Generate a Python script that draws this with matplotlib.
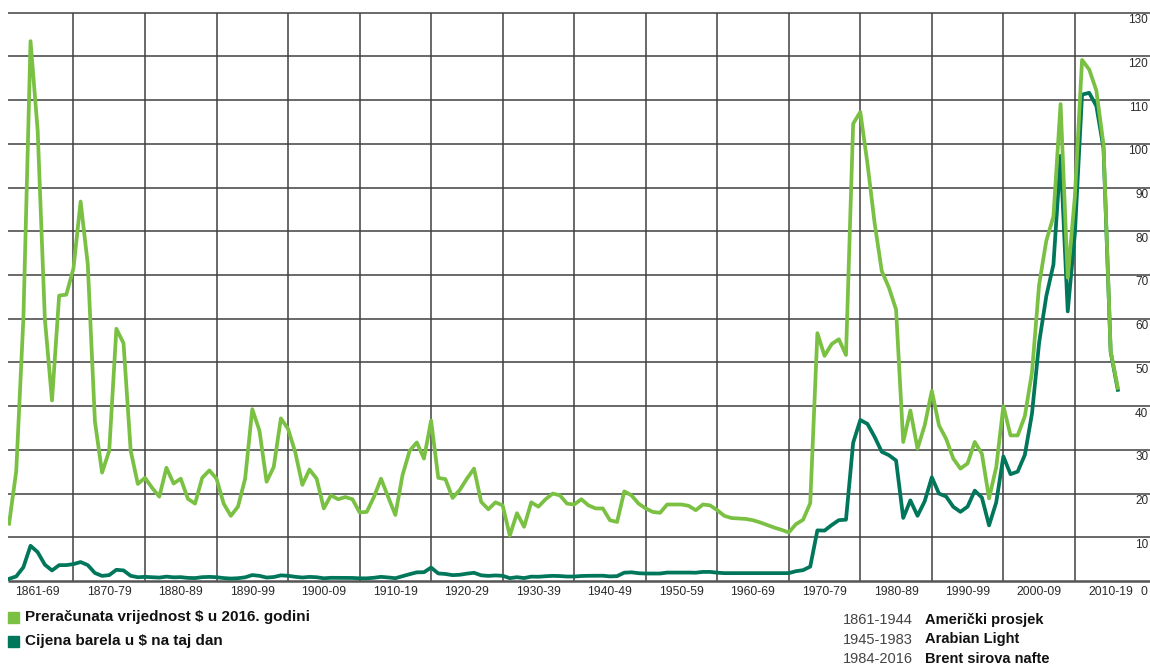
import matplotlib
matplotlib.use("Agg")
import matplotlib.pyplot as plt
from matplotlib.patches import Rectangle
from matplotlib.transforms import blended_transform_factory

plt.rcParams['font.family'] = ['Liberation Sans', 'DejaVu Sans']

years = list(range(1861, 2017))

# cijena u dolarima iz 2016.
real_2016 = [
    13.1, 25.1, 60.0, 123.5, 103.0, 60.0, 41.3, 65.3, 65.5, 71.5,
    86.8, 72.5, 36.5, 24.8, 29.8, 57.7, 54.4, 29.8, 22.2, 23.6,
    21.3, 19.3, 25.9, 22.3, 23.4, 18.8, 17.7, 23.6, 25.3, 23.4,
    17.7, 14.9, 17.0, 23.4, 39.3, 34.4, 22.7, 26.1, 37.2, 34.8,
    29.5, 22.0, 25.5, 23.4, 16.6, 19.6, 18.7, 19.2, 18.7, 15.7,
    15.8, 19.2, 23.4, 19.2, 15.1, 24.2, 29.8, 31.7, 28.0, 36.7,
    23.6, 23.3, 19.0, 20.8, 23.4, 25.7, 18.1, 16.4, 18.0, 17.3,
    10.4, 15.5, 12.4, 18.0, 17.0, 18.7, 20.0, 19.6, 17.7, 17.5,
    18.7, 17.3, 16.6, 16.6, 13.9, 13.5, 20.5, 19.6, 17.7, 16.6,
    15.8, 15.6, 17.5, 17.5, 17.5, 17.2, 16.2, 17.5, 17.3, 16.2,
    14.9, 14.4, 14.3, 14.2, 13.9, 13.4, 12.8, 12.2, 11.7, 11.1,
    13.0, 14.0, 17.8, 56.7, 51.5, 54.2, 55.3, 51.7, 104.6, 107.3,
    95.5, 81.9, 70.9, 67.1, 62.1, 31.8, 39.0, 30.3, 35.6, 43.5,
    35.6, 32.5, 28.0, 25.7, 26.9, 31.8, 29.1, 18.9, 26.0, 40.0,
    33.3, 33.3, 37.7, 47.7, 67.8, 77.8, 83.4, 109.1, 69.4, 88.0,
    119.2, 117.0, 112.2, 99.8, 52.6, 44.2,
]

# cijena na taj dan
nominal = [
    0.49, 1.05, 3.15, 8.06, 6.59, 3.74, 2.41, 3.63, 3.64, 3.86,
    4.34, 3.64, 1.83, 1.17, 1.35, 2.56, 2.42, 1.19, 0.86, 0.95,
    0.86, 0.78, 1.00, 0.84, 0.88, 0.71, 0.67, 0.88, 0.94, 0.87,
    0.67, 0.56, 0.64, 0.84, 1.36, 1.18, 0.79, 0.91, 1.29, 1.19,
    0.96, 0.80, 0.94, 0.86, 0.62, 0.73, 0.72, 0.72, 0.70, 0.61,
    0.61, 0.74, 0.95, 0.81, 0.64, 1.10, 1.56, 1.98, 2.01, 3.07,
    1.73, 1.61, 1.34, 1.43, 1.68, 1.88, 1.30, 1.17, 1.27, 1.19,
    0.65, 0.87, 0.67, 1.00, 0.97, 1.09, 1.18, 1.13, 1.02, 1.02,
    1.14, 1.19, 1.20, 1.21, 1.05, 1.12, 1.90, 1.99, 1.78, 1.71,
    1.71, 1.71, 1.93, 1.93, 1.93, 1.93, 1.90, 2.08, 2.08, 1.90,
    1.80, 1.80, 1.80, 1.80, 1.80, 1.80, 1.80, 1.80, 1.80, 1.80,
    2.24, 2.48, 3.29, 11.58, 11.53, 12.80, 13.92, 14.02, 31.61, 36.83,
    35.93, 32.97, 29.55, 28.78, 27.56, 14.43, 18.44, 14.92, 18.23, 23.73,
    20.00, 19.32, 16.97, 15.82, 17.02, 20.67, 19.09, 12.72, 17.97, 28.50,
    24.44, 25.02, 28.83, 38.27, 54.52, 65.14, 72.39, 97.26, 61.67, 79.50,
    111.26, 111.67, 108.66, 98.95, 52.39, 43.73,
]

decade_labels = ["1861-69", "1870-79", "1880-89", "1890-99", "1900-09",
                 "1910-19", "1920-29", "1930-39", "1940-49", "1950-59",
                 "1960-69", "1970-79", "1980-89", "1990-99", "2000-09",
                 "2010-19"]
decade_centers = [1865] + [1875 + 10 * i for i in range(15)]
y_ticks = list(range(10, 140, 10))

source_years = ["1861-1944", "1945-1983", "1984-2016"]
source_names = ["Američki prosjek", "Arabian Light", "Brent sirova nafte"]

LIGHT = "#7AC143"
DARK = "#00765A"
GRID = "#404040"

W, H = 1150, 666
fig = plt.figure(figsize=(W / 100, H / 100), dpi=100)
ax = fig.add_axes([8 / W, 1 - 581 / H, 1142 / W, (581 - 12.7) / H])
x0, x1 = 1860.85, 2020.5
ax.set_xlim(x0, x1)
ax.set_ylim(0, 130)
ax.axis("off")

ax.hlines(y_ticks, x0, x1, color=GRID, lw=1.1, clip_on=False, zorder=1)
ax.vlines(range(1870, 2020, 10), 0, 130, color=GRID, lw=1.1, clip_on=False, zorder=1)
ax.hlines([0], x0, x1, color="#555555", lw=1.8, clip_on=False, zorder=1)

ax.plot(years, nominal, color=DARK, lw=2.7, solid_joinstyle="round", zorder=3)
ax.plot(years, real_2016, color=LIGHT, lw=2.7, solid_joinstyle="round", zorder=4)

tr = blended_transform_factory(ax.transAxes, ax.transData)
for v in y_ticks:
    ax.text(0.9985, v - 1.7, str(v), transform=tr, ha="right", va="center",
            fontsize=8.5, color="#2a2a2a")

trx = blended_transform_factory(ax.transData, ax.transAxes)
for lab, c in zip(decade_labels, decade_centers):
    ax.text(c, -0.0195, lab, transform=trx, ha="center", va="center",
            fontsize=8.7, color="#2a2a2a")
fig.text(1147 / W, 1 - 592 / H, "0", ha="right", va="center", fontsize=8.7, color="#2a2a2a")

# legenda
for i, (col, lab) in enumerate([(LIGHT, "Preračunata vrijednost $ u 2016. godini"),
                                (DARK, "Cijena barela u $ na taj dan")]):
    yc = 617 + 24 * i
    fig.patches.append(Rectangle((8 / W, 1 - (yc + 5.5) / H), 11 / W, 11 / H,
                                 transform=fig.transFigure, color=col, figure=fig))
    fig.text(25 / W, 1 - yc / H, lab, ha="left", va="center", fontsize=11,
             fontweight="bold", color="#111111")

for i, (yr, nm) in enumerate(zip(source_years, source_names)):
    yc = 620 + 19.5 * i
    fig.text(843 / W, 1 - yc / H, yr, ha="left", va="center", fontsize=10.5, color="#444444")
    fig.text(925 / W, 1 - yc / H, nm, ha="left", va="center", fontsize=10.5,
             fontweight="bold", color="#111111")

fig.savefig("out.png", dpi=100)
